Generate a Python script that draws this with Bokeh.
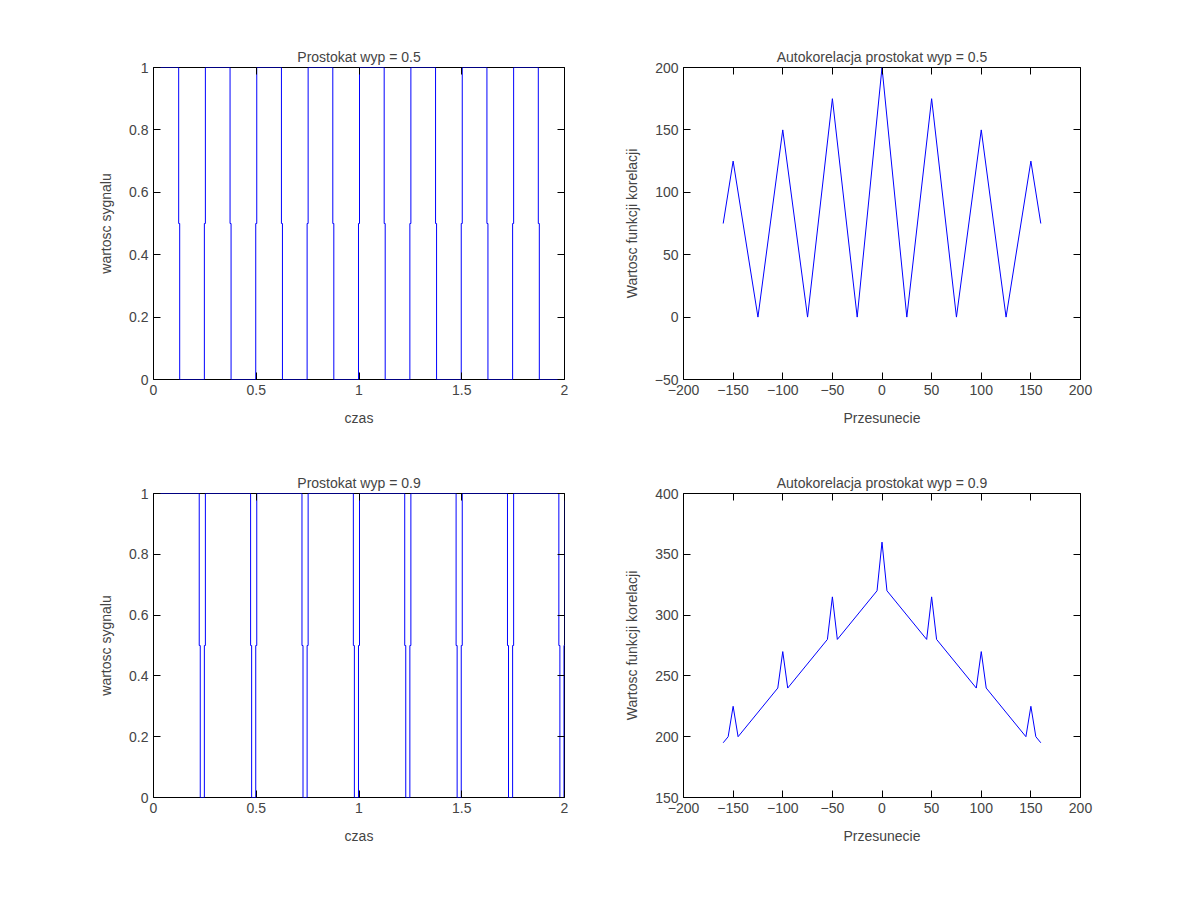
from bokeh.plotting import figure
from bokeh.layouts import gridplot
from bokeh.models import LinearAxis, FixedTicker, Range1d
from bokeh.embed import file_html
from bokeh.resources import INLINE

# transition times of the square waves (period 0.25 s)
edges_50 = [0.125, 0.25, 0.375, 0.5, 0.625, 0.75, 0.875, 1.0, 1.125, 1.25,
            1.375, 1.5, 1.625, 1.75, 1.875]
edges_90 = [0.225, 0.25, 0.475, 0.5, 0.725, 0.75, 0.975, 1.0, 1.225, 1.25,
            1.475, 1.5, 1.725, 1.75, 1.975, 2.0]
half_step = 0.0025

# autocorrelation vertices
lag_50 = [-160, -150, -125, -100, -75, -50, -25, 0, 25, 50, 75, 100, 125, 150, 160]
ac_50 = [75, 125, 0, 150, 0, 175, 0, 200, 0, 175, 0, 150, 0, 125, 75]
lag_90 = [-160, -155, -150, -145, -105, -100, -95, -55, -50, -45, -5, 0,
          5, 45, 50, 55, 95, 100, 105, 145, 150, 155, 160]
ac_90 = [195, 200, 225, 200, 240, 270, 240, 280, 315, 280, 320, 360,
         320, 280, 315, 280, 240, 270, 240, 200, 225, 200, 195]

FONT = "Liberation Sans"


def square(edges, end=2.0):
    xs, ys = [0.0], [1.0]
    level = 1.0
    for t in edges:
        nxt = 1.0 - level
        xs += [t - half_step, t - half_step, t + half_step, t + half_step]
        ys += [level, 0.5, 0.5, nxt]
        level = nxt
    if xs[-1] < end:
        xs.append(end)
        ys.append(level)
    return xs, ys


def style(p, xt, yt, xlab, ylab, labels=None):
    p.title.text_font = FONT
    p.title.text_font_size = "14px"
    p.title.text_font_style = "normal"
    p.title.align = "center"
    p.title.standoff = 6
    p.outline_line_color = "black"
    p.outline_line_alpha = 1
    p.grid.visible = False
    p.xaxis.axis_label = xlab
    p.yaxis.axis_label = ylab
    for ax, t, place in ((p.xaxis[0], xt, "above"), (p.yaxis[0], yt, "right")):
        ax.ticker = FixedTicker(ticks=t)
        if labels:
            ax.major_label_overrides = labels
        ax.major_tick_in = 7
        ax.major_tick_out = 0
        ax.minor_tick_line_color = None
        ax.axis_line_color = None
        ax.major_label_text_font = FONT
        ax.major_label_text_font_size = "14px"
        ax.axis_label_text_font = FONT
        ax.axis_label_text_font_size = "14px"
        ax.axis_label_text_font_style = "normal"
        ax.axis_label_standoff = 12
        m = LinearAxis(ticker=FixedTicker(ticks=t), major_tick_in=7,
                       major_tick_out=0, minor_tick_line_color=None,
                       axis_line_color=None, major_label_text_font=FONT,
                       major_label_text_font_size="14px",
                       major_label_text_color=None)
        p.add_layout(m, place)


def make(title, xr, yr, bl, br, bt, bb):
    return figure(title=title, x_range=Range1d(*xr), y_range=Range1d(*yr),
                  width=596, height=446, output_backend="svg",
                  toolbar_location=None, min_border_left=bl,
                  min_border_right=br, min_border_top=bt, min_border_bottom=bb)


lbl = {0: "0", 0.2: "0.2", 0.4: "0.4", 0.6: "0.6", 0.8: "0.8", 1: "1",
       0.5: "0.5", 1.5: "1.5", 2: "2"}
t_x = [0, 0.5, 1, 1.5, 2]
t_y = [0, 0.2, 0.4, 0.6, 0.8, 1]

p1 = make("Prostokat wyp = 0.5", (0, 2), (0, 1), 153, 32, 67, 67)
x, y = square(edges_50)
p1.line(x, y, color="blue", line_width=1)
style(p1, t_x, t_y, "czas", "wartosc sygnalu", lbl)

p2 = make("Autokorelacja prostokat wyp = 0.5", (-200, 200), (-50, 200), 87, 112, 67, 67)
p2.line(lag_50, ac_50, color="blue", line_width=1)
style(p2, list(range(-200, 201, 50)), list(range(-50, 201, 50)),
      "Przesunecie", "Wartosc funkcji korelacji")

p3 = make("Prostokat wyp = 0.9", (0, 2), (0, 1), 153, 32, 47, 95)
x, y = square(edges_90)
p3.line(x, y, color="blue", line_width=1)
style(p3, t_x, t_y, "czas", "wartosc sygnalu", lbl)

p4 = make("Autokorelacja prostokat wyp = 0.9", (-200, 200), (150, 400), 87, 112, 47, 95)
p4.line(lag_90, ac_90, color="blue", line_width=1)
style(p4, list(range(-200, 201, 50)), list(range(150, 401, 50)),
      "Przesunecie", "Wartosc funkcji korelacji")

p = gridplot([[p1, p2], [p3, p4]], toolbar_location=None)
open("out.html", "w").write(file_html(p, INLINE))
